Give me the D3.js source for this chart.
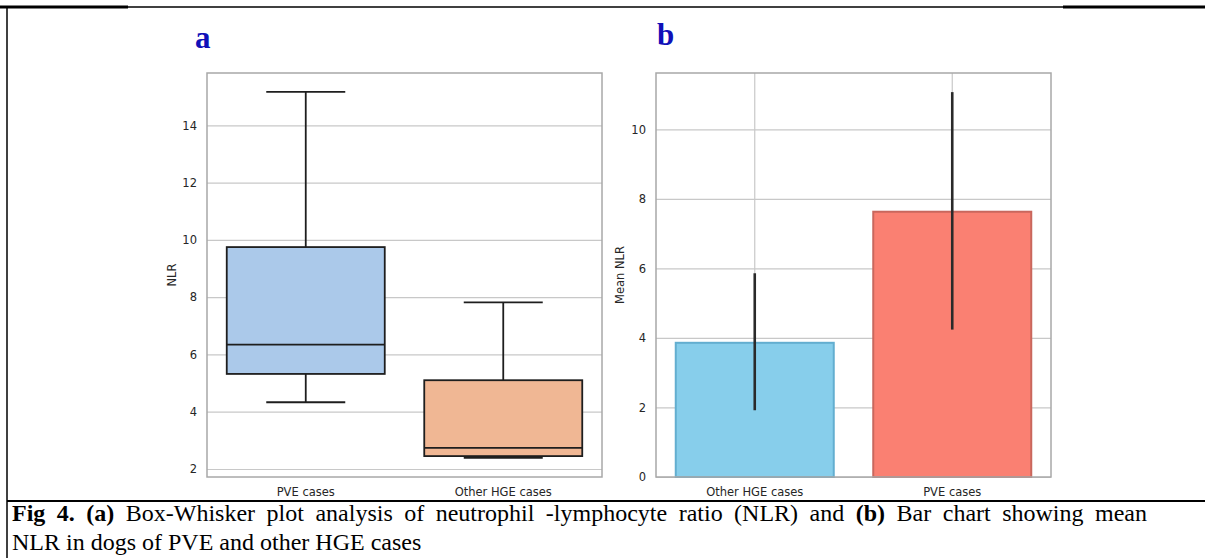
<!DOCTYPE html>
<html>
<head>
<meta charset="utf-8">
<script src="https://cdn.jsdelivr.net/npm/d3@7"></script>
<style>
  body { margin: 0; background: #fff; }
  svg { display: block; }
</style>
</head>
<body>
<div id="fig"></div>
<script>
// panel a: box plot values
const boxCats = ['PVE cases', 'Other HGE cases']
const boxLow = [4.33, 2.39]
const boxQ1 = [5.32, 2.45]
const boxMed = [6.34, 2.74]
const boxQ3 = [9.75, 5.10]
const boxHigh = [15.17, 7.82]
const boxColors = ['#abc9ea', '#f0b794']
const boxTicks = [2, 4, 6, 8, 10, 12, 14]

// panel b: mean with error bar
const barCats = ['Other HGE cases', 'PVE cases']
const barMean = [3.86, 7.63]
const barErrLow = [1.92, 4.24]
const barErrHigh = [5.86, 11.07]
const barColors = ['#87ceeb', '#fa8072']
const barEdges = ['#63aed0', '#c9675d']
const barTicks = [0, 2, 4, 6, 8, 10]

const W = 1205, H = 558
const svg = d3.select('#fig').append('svg')
    .attr('width', W)
    .attr('height', H)

const tickFont = 'DejaVu Sans, sans-serif'
const tickSize = 11.5
const textCol = '#262626'
const gridCol = '#c8c8c8'
const spineCol = '#a8a8a8'

// figure frame (looks like a table cell around the figure)
svg.append('line').attr('x1', 0).attr('x2', W).attr('y1', 7).attr('y2', 7)
    .attr('stroke', '#000').attr('stroke-width', 1.5)
svg.append('line').attr('x1', 0).attr('x2', 128).attr('y1', 7).attr('y2', 7)
    .attr('stroke', '#000').attr('stroke-width', 3)
svg.append('line').attr('x1', 1063).attr('x2', W).attr('y1', 7).attr('y2', 7)
    .attr('stroke', '#000').attr('stroke-width', 3)
svg.append('line').attr('x1', 7).attr('x2', 7).attr('y1', 6).attr('y2', H)
    .attr('stroke', '#000').attr('stroke-width', 1.5)
svg.append('line').attr('x1', 7).attr('x2', W).attr('y1', 501).attr('y2', 501)
    .attr('stroke', '#000').attr('stroke-width', 2)

const styleTicks = g => g.selectAll('.tick text')
    .attr('fill', textCol).attr('font-size', tickSize).attr('font-family', tickFont)

// ---------- panel a ----------
const a = { left: 207, right: 602, top: 73, bottom: 477 }
const xa = d3.scaleBand().domain(boxCats).range([a.left, a.right])
const ya = d3.scaleLinear().domain([1.72, 15.83]).range([a.bottom, a.top])

const ga = svg.append('g')
ga.append('g')
    .attr('transform', `translate(${a.left},0)`)
    .call(d3.axisLeft(ya).tickValues(boxTicks).tickSize(-(a.right - a.left)).tickPadding(10))
    .call(g => g.select('.domain').remove())
    .call(g => g.selectAll('.tick line').attr('stroke', gridCol).attr('stroke-width', 1.2))
    .call(styleTicks)

ga.append('g')
    .attr('transform', `translate(0,${a.bottom})`)
    .call(d3.axisBottom(xa).tickSize(0).tickPadding(11))
    .call(g => g.select('.domain').remove())
    .call(styleTicks)

const boxes = ga.selectAll('g.box')
    .data(boxCats)
    .join('g')
    .attr('class', 'box')

const bw = xa.bandwidth() * 0.8
boxes.each(function (d, i) {
    const g = d3.select(this)
    const cx = xa(d) + xa.bandwidth() / 2
    g.append('line').attr('x1', cx).attr('x2', cx).attr('y1', ya(boxHigh[i])).attr('y2', ya(boxQ3[i]))
    g.append('line').attr('x1', cx).attr('x2', cx).attr('y1', ya(boxQ1[i])).attr('y2', ya(boxLow[i]))
    g.append('line').attr('x1', cx - bw / 4).attr('x2', cx + bw / 4).attr('y1', ya(boxHigh[i])).attr('y2', ya(boxHigh[i]))
    g.append('line').attr('x1', cx - bw / 4).attr('x2', cx + bw / 4).attr('y1', ya(boxLow[i])).attr('y2', ya(boxLow[i]))
    g.append('rect')
        .attr('x', cx - bw / 2).attr('width', bw)
        .attr('y', ya(boxQ3[i])).attr('height', ya(boxQ1[i]) - ya(boxQ3[i]))
        .attr('fill', boxColors[i])
    g.append('line').attr('x1', cx - bw / 2).attr('x2', cx + bw / 2).attr('y1', ya(boxMed[i])).attr('y2', ya(boxMed[i]))
    g.selectAll('line, rect').attr('stroke', '#1e1e1e').attr('stroke-width', 1.8)
})

ga.append('rect')
    .attr('x', a.left).attr('y', a.top)
    .attr('width', a.right - a.left).attr('height', a.bottom - a.top)
    .attr('fill', 'none').attr('stroke', spineCol).attr('stroke-width', 1.5)

ga.append('text')
    .attr('transform', `translate(176,${(a.top + a.bottom) / 2}) rotate(-90)`)
    .attr('text-anchor', 'middle')
    .attr('font-family', tickFont).attr('font-size', tickSize).attr('fill', textCol)
    .text('NLR')

// ---------- panel b ----------
const b = { left: 656, right: 1051, top: 73, bottom: 477 }
const xb = d3.scaleBand().domain(barCats).range([b.left, b.right])
const yb = d3.scaleLinear().domain([0, 11.62]).range([b.bottom, b.top])

const gb = svg.append('g')
gb.append('g')
    .attr('transform', `translate(${b.left},0)`)
    .call(d3.axisLeft(yb).tickValues(barTicks).tickSize(-(b.right - b.left)).tickPadding(10))
    .call(g => g.select('.domain').remove())
    .call(g => g.selectAll('.tick line').attr('stroke', gridCol).attr('stroke-width', 1.2))
    .call(styleTicks)

gb.append('g')
    .attr('transform', `translate(0,${b.bottom})`)
    .call(d3.axisBottom(xb).tickSize(-(b.bottom - b.top)).tickPadding(11))
    .call(g => g.select('.domain').remove())
    .call(g => g.selectAll('.tick line').attr('stroke', gridCol).attr('stroke-width', 1.2))
    .call(styleTicks)

const bbw = xb.bandwidth() * 0.8
gb.selectAll('rect.bar')
    .data(barCats)
    .join('rect')
    .attr('class', 'bar')
    .attr('x', d => xb(d) + (xb.bandwidth() - bbw) / 2)
    .attr('width', bbw)
    .attr('y', (d, i) => yb(barMean[i]))
    .attr('height', (d, i) => yb(0) - yb(barMean[i]))
    .attr('fill', (d, i) => barColors[i])
    .attr('stroke', (d, i) => barEdges[i])
    .attr('stroke-width', 2)

gb.selectAll('line.err')
    .data(barCats)
    .join('line')
    .attr('class', 'err')
    .attr('x1', d => xb(d) + xb.bandwidth() / 2)
    .attr('x2', d => xb(d) + xb.bandwidth() / 2)
    .attr('y1', (d, i) => yb(barErrHigh[i]))
    .attr('y2', (d, i) => yb(barErrLow[i]))
    .attr('stroke', '#2a2a2a')
    .attr('stroke-width', 2.6)

gb.append('rect')
    .attr('x', b.left).attr('y', b.top)
    .attr('width', b.right - b.left).attr('height', b.bottom - b.top)
    .attr('fill', 'none').attr('stroke', spineCol).attr('stroke-width', 1.5)

gb.append('text')
    .attr('transform', `translate(624,${(b.top + b.bottom) / 2}) rotate(-90)`)
    .attr('text-anchor', 'middle')
    .attr('font-family', tickFont).attr('font-size', tickSize).attr('fill', textCol)
    .text('Mean NLR')

// panel letters
const letters = [{ t: 'a', x: 195, y: 48 }, { t: 'b', x: 657, y: 45 }]
svg.selectAll('text.panel')
    .data(letters)
    .join('text')
    .attr('class', 'panel')
    .attr('x', d => d.x).attr('y', d => d.y)
    .attr('font-family', 'Liberation Serif, Times New Roman, serif')
    .attr('font-weight', 'bold')
    .attr('font-size', 31)
    .attr('fill', '#1010b8')
    .text(d => d.t)

// caption, first line is justified to the right edge
const cap = svg.append('g')
    .attr('font-family', 'Liberation Serif, Times New Roman, serif')
    .attr('font-size', 24)
    .attr('fill', '#000')
const line1 = cap.append('text').attr('x', 12).attr('y', 521)
line1.append('tspan').attr('font-weight', 'bold').text('Fig 4. (a)')
line1.append('tspan').text(' Box-Whisker plot analysis of neutrophil -lymphocyte ratio (NLR) and ')
line1.append('tspan').attr('font-weight', 'bold').text('(b)')
line1.append('tspan').text(' Bar chart showing mean')
const natural = line1.node().getComputedTextLength()
line1.attr('word-spacing', Math.max(0, (1147 - 12 - natural) / 16))
cap.append('text').attr('x', 12).attr('y', 550).text('NLR in dogs of PVE and other HGE cases')
</script>
</body>
</html>
